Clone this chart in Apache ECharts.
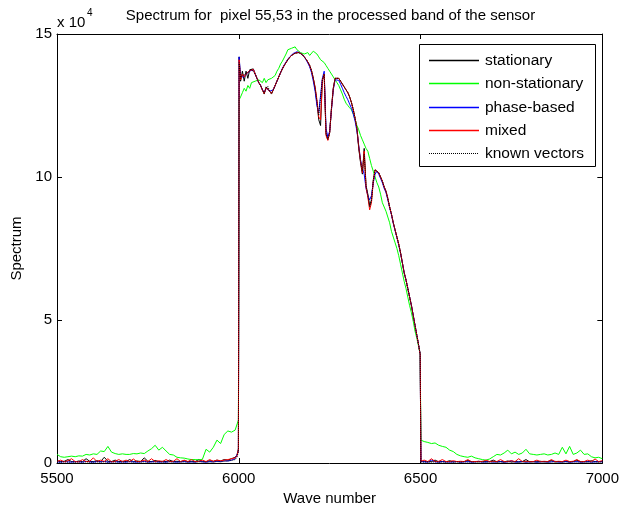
<!DOCTYPE html>
<html>
<head>
<meta charset="utf-8">
<script src="https://cdn.jsdelivr.net/npm/echarts/dist/echarts.min.js"></script>
<style>html,body{margin:0;padding:0;background:#fff}#c{width:622px;height:514px}</style>
</head>
<body>
<div id="c"></div>
<script>
// Wave numbers (x values) shared by all series
const waves = [
  5500,5510,5520,5530,5540,5550,5560,5570,5580,5590,
  5600,5610,5620,5630,5640,5650,5660,5670,5680,5690,
  5700,5710,5720,5730,5740,5750,5760,5770,5780,5790,
  5800,5810,5820,5830,5840,5850,5860,5870,5880,5890,
  5900,5910,5920,5930,5940,5950,5960,5970,5980,5990,
  5995,5999,
  6001,
  6005,6010,6015,6020,6025,6030,6035,6040,6045,6050,
  6055,6060,6065,6070,6075,6080,6085,6090,6095,6100,
  6105,6110,6115,6120,6125,6130,6135,6140,6145,6150,
  6155,6160,6165,6170,6175,6180,6185,6190,6195,6200,
  6205,6210,6215,6220,6225,6230,6235,6240,6245,6250,
  6255,6260,6265,6270,6275,6280,6285,6290,6295,6300,
  6305,6310,6315,6320,6325,6330,6335,6340,6345,6350,
  6355,6360,6365,6370,6375,6380,6385,6390,6395,6400,
  6405,6410,6415,6420,6425,6430,6435,6440,6445,6450,
  6455,6460,6465,6470,6475,6480,6485,6490,6495,
  6499,
  6501,
  6510,6520,6530,6540,6550,6560,6570,6580,6590,6600,
  6610,6620,6630,6640,6650,6660,6670,6680,6690,6700,
  6710,6720,6730,6740,6750,6760,6770,6780,6790,6800,
  6810,6820,6830,6840,6850,6860,6870,6880,6890,6900,
  6910,6920,6930,6940,6950,6960,6970,6980,6990,7000
];

// Spectrum values, in units of 10^4
const stationary = [
  0.08,0.05,0.06,0.12,0.05,0.04,0.07,0.05,0.15,0.06,
  0.05,0.08,0.05,0.2,0.06,0.05,0.1,0.05,0.06,0.05,
  0.12,0.05,0.07,0.05,0.18,0.06,0.05,0.09,0.05,0.06,
  0.05,0.1,0.05,0.06,0.05,0.08,0.05,0.06,0.05,0.12,
  0.06,0.05,0.08,0.06,0.1,0.07,0.12,0.1,0.15,0.2,
  0.28,0.5,
  14.2,
  13.35,13.7,13.35,13.7,13.45,13.75,13.8,13.78,13.62,13.45,
  13.3,13.2,13.05,12.9,13.15,13.2,13.0,12.9,13.05,13.2,
  13.35,13.5,13.65,13.78,13.9,14.0,14.1,14.18,14.25,14.3,
  14.33,14.35,14.35,14.32,14.28,14.2,14.12,14.02,13.9,13.72,
  13.45,13.1,12.6,12.0,11.8,13.4,13.55,11.5,11.3,11.55,
  12.4,13.1,13.45,13.5,13.45,13.35,13.25,13.15,13.05,12.95,
  12.8,12.6,12.35,12.05,11.7,11.0,10.5,10.1,11.0,9.7,
  9.4,9.0,9.2,9.9,10.25,10.3,10.15,10.0,9.85,9.65,
  9.5,9.25,8.95,8.7,8.4,8.15,7.9,7.65,7.35,7.0,
  6.65,6.4,6.1,5.8,5.5,5.15,4.8,4.45,4.1,
  3.8,
  0.05,
  0.06,0.04,0.05,0.1,0.04,0.05,0.04,0.08,0.04,0.05,
  0.04,0.05,0.09,0.04,0.05,0.04,0.06,0.04,0.05,0.1,
  0.04,0.05,0.04,0.07,0.04,0.05,0.04,0.05,0.12,0.04,
  0.05,0.04,0.06,0.04,0.05,0.09,0.04,0.05,0.04,0.06,
  0.04,0.05,0.1,0.04,0.05,0.04,0.08,0.05,0.04,0.06
];

const nonStationary = [
  0.3,0.22,0.2,0.22,0.24,0.22,0.25,0.24,0.3,0.28,
  0.32,0.3,0.42,0.4,0.58,0.38,0.33,0.3,0.32,0.3,
  0.3,0.33,0.32,0.35,0.33,0.42,0.5,0.62,0.45,0.55,
  0.42,0.3,0.28,0.2,0.18,0.17,0.14,0.12,0.12,0.11,
  0.13,0.48,0.38,0.55,0.8,0.68,1.0,1.12,1.08,1.15,
  1.2,1.5,
  12.7,
  12.8,12.95,13.1,13.0,13.2,13.1,13.3,13.25,13.35,13.3,
  13.4,13.35,13.3,13.45,13.3,13.4,13.35,13.45,13.5,13.55,
  13.7,13.8,13.95,14.05,14.1,14.3,14.45,14.4,14.5,14.45,
  14.55,14.45,14.4,14.35,14.3,14.3,14.25,14.35,14.25,14.3,
  14.4,14.35,14.3,14.2,14.1,14.05,14.0,13.9,13.8,13.7,
  13.6,13.5,13.4,13.3,13.2,13.05,12.9,12.72,12.58,12.5,
  12.42,12.35,12.2,12.0,11.8,11.65,11.45,11.3,11.15,11.0,
  10.9,10.65,10.4,10.2,10.0,9.8,9.65,9.4,9.1,8.95,
  8.8,8.6,8.4,8.1,7.9,7.7,7.5,7.25,6.95,6.65,
  6.35,6.1,5.8,5.5,5.25,4.95,4.6,4.35,4.05,
  3.8,
  0.8,
  0.75,0.72,0.68,0.7,0.62,0.58,0.55,0.45,0.4,0.3,
  0.25,0.22,0.2,0.24,0.18,0.15,0.12,0.1,0.14,0.22,
  0.3,0.28,0.35,0.45,0.32,0.38,0.3,0.35,0.48,0.32,
  0.3,0.28,0.3,0.32,0.28,0.3,0.35,0.3,0.55,0.32,
  0.58,0.3,0.35,0.45,0.3,0.32,0.22,0.18,0.2,0.15
];

const phaseBased = [
  0.04,0.03,0.05,0.04,0.03,0.05,0.04,0.03,0.06,0.04,
  0.03,0.05,0.04,0.06,0.03,0.04,0.05,0.03,0.04,0.03,
  0.05,0.04,0.03,0.04,0.06,0.03,0.04,0.05,0.03,0.04,
  0.03,0.05,0.04,0.03,0.04,0.05,0.03,0.04,0.03,0.06,
  0.04,0.03,0.05,0.04,0.06,0.05,0.08,0.07,0.1,0.15,
  0.2,0.4,
  14.2,
  13.5,13.55,13.5,13.6,13.6,13.7,13.75,13.75,13.6,13.45,
  13.3,13.2,13.05,12.95,13.1,13.15,13.0,12.95,13.05,13.2,
  13.35,13.5,13.65,13.8,13.92,14.02,14.12,14.2,14.26,14.32,
  14.35,14.38,14.37,14.33,14.28,14.2,14.1,13.98,13.85,13.65,
  13.35,13.0,12.5,12.25,12.3,13.45,13.7,11.7,11.4,11.6,
  12.35,13.05,13.4,13.45,13.38,13.25,13.1,12.95,12.82,12.7,
  12.55,12.4,12.2,11.95,11.6,11.1,10.6,10.3,10.1,9.6,
  9.35,9.2,9.35,9.8,10.1,10.2,10.1,9.95,9.8,9.6,
  9.45,9.2,8.92,8.68,8.38,8.12,7.88,7.62,7.33,7.0,
  6.65,6.4,6.1,5.8,5.5,5.15,4.8,4.45,4.1,
  3.8,
  0.05,
  0.04,0.03,0.1,0.04,0.03,0.05,0.04,0.03,0.04,0.05,
  0.03,0.04,0.05,0.03,0.04,0.06,0.03,0.04,0.05,0.03,
  0.04,0.05,0.03,0.04,0.08,0.03,0.04,0.05,0.03,0.04,
  0.05,0.03,0.04,0.05,0.03,0.04,0.06,0.03,0.04,0.05,
  0.03,0.04,0.05,0.03,0.04,0.05,0.03,0.04,0.05,0.04
];

const mixed = [
  0.05,0.1,0.04,0.08,0.15,0.05,0.04,0.12,0.05,0.06,
  0.18,0.05,0.1,0.05,0.15,0.04,0.06,0.12,0.05,0.1,
  0.05,0.14,0.05,0.06,0.1,0.05,0.15,0.05,0.08,0.05,
  0.12,0.05,0.06,0.15,0.05,0.1,0.05,0.12,0.05,0.06,
  0.1,0.05,0.12,0.06,0.1,0.08,0.1,0.12,0.15,0.18,
  0.25,0.45,
  14.1,
  13.4,13.6,13.5,13.6,13.55,13.72,13.78,13.76,13.6,13.45,
  13.3,13.2,13.05,12.92,13.12,13.18,13.0,12.92,13.05,13.2,
  13.35,13.5,13.65,13.78,13.9,14.0,14.1,14.18,14.25,14.3,
  14.33,14.36,14.36,14.33,14.28,14.2,14.12,14.02,13.9,13.72,
  13.45,13.15,12.7,12.1,12.0,13.4,13.6,11.45,11.28,11.55,
  12.4,13.1,13.45,13.5,13.45,13.35,13.25,13.15,13.05,12.95,
  12.8,12.6,12.35,12.05,11.7,11.05,10.55,10.15,10.9,9.65,
  9.3,8.85,9.1,9.85,10.25,10.3,10.15,10.0,9.85,9.65,
  9.5,9.25,8.95,8.7,8.4,8.15,7.9,7.65,7.35,7.0,
  6.65,6.4,6.1,5.8,5.5,5.15,4.8,4.45,4.1,
  3.8,
  0.06,
  0.1,0.05,0.15,0.05,0.06,0.12,0.05,0.05,0.08,0.05,
  0.06,0.05,0.12,0.05,0.05,0.06,0.05,0.1,0.05,0.06,
  0.05,0.12,0.05,0.05,0.08,0.05,0.15,0.05,0.06,0.05,
  0.05,0.1,0.05,0.06,0.05,0.12,0.05,0.06,0.05,0.1,
  0.05,0.06,0.12,0.05,0.05,0.1,0.05,0.14,0.05,0.08
];

const knownVectors = [
  0.04,0.03,0.04,0.03,0.04,0.03,0.04,0.03,0.04,0.03,
  0.03,0.04,0.03,0.04,0.03,0.04,0.03,0.04,0.03,0.04,
  0.04,0.03,0.04,0.03,0.04,0.03,0.04,0.03,0.04,0.03,
  0.03,0.04,0.03,0.04,0.03,0.04,0.03,0.04,0.03,0.04,
  0.04,0.03,0.04,0.03,0.05,0.04,0.06,0.07,0.09,0.12,
  0.2,0.4,
  14.0,
  13.45,13.55,13.5,13.6,13.6,13.7,13.77,13.75,13.6,13.45,
  13.3,13.2,13.05,12.93,13.1,13.17,13.0,12.93,13.05,13.2,
  13.35,13.5,13.65,13.78,13.9,14.0,14.1,14.18,14.25,14.3,
  14.33,14.35,14.35,14.32,14.28,14.2,14.12,14.02,13.9,13.72,
  13.45,13.1,12.65,12.15,12.1,13.4,13.6,11.55,11.32,11.55,
  12.4,13.1,13.45,13.5,13.45,13.35,13.25,13.15,13.05,12.95,
  12.8,12.6,12.35,12.05,11.7,11.05,10.55,10.2,10.8,9.7,
  9.35,8.95,9.15,9.85,10.25,10.3,10.15,10.0,9.85,9.65,
  9.5,9.25,8.95,8.7,8.4,8.15,7.9,7.65,7.35,7.0,
  6.65,6.4,6.1,5.8,5.5,5.15,4.8,4.45,4.1,
  3.8,
  0.04,
  0.03,0.04,0.03,0.04,0.03,0.04,0.03,0.04,0.03,0.04,
  0.03,0.04,0.03,0.04,0.03,0.04,0.03,0.04,0.03,0.04,
  0.03,0.04,0.03,0.04,0.03,0.04,0.03,0.04,0.03,0.04,
  0.03,0.04,0.03,0.04,0.03,0.04,0.03,0.04,0.03,0.04,
  0.03,0.04,0.03,0.04,0.03,0.04,0.03,0.04,0.03,0.04
];

const xTicks = [5500, 6000, 6500, 7000];
const yTicks = [0, 5, 10, 15];
const seriesNames = ['stationary', 'non-stationary', 'phase-based', 'mixed', 'known vectors'];
const seriesValues = [stationary, nonStationary, phaseBased, mixed, knownVectors];
const seriesColors = ['#000000', '#00ff00', '#0000ff', '#ff0000', '#000000'];
const seriesDash = ['solid', 'solid', 'solid', 'solid', [1, 1]];

const FONT = 'Liberation Sans, Arial, Helvetica, sans-serif';

const chart = echarts.init(document.getElementById('c'), null, {renderer: 'canvas'});

const series = seriesNames.map((name, k) => {
  const vals = seriesValues[k];
  if (vals.length !== waves.length) console.error(name, vals.length, waves.length);
  return {
    name: name,
    type: 'line',
    data: waves.map((w, i) => [w, vals[i]]),
    symbol: 'none',
    showSymbol: false,
    smooth: false,
    lineStyle: {color: seriesColors[k], width: 1, type: seriesDash[k]},
    itemStyle: {color: seriesColors[k]},
    z: 2 + k
  };
});

const axisCommon = {
  axisLine: {show: true, onZero: false, lineStyle: {color: '#000', width: 1}},
  axisTick: {show: true, inside: true, length: 5, lineStyle: {color: '#000'}},
  splitLine: {show: false}
};

// Legend box drawn as graphic elements (MATLAB-style: thin line samples)
const legendBox = {x: 419.5, y: 44.5, w: 176, h: 122};
const legendRowY = [60.5, 83.5, 107.5, 130.5, 153.5];
const legendGraphic = [{
  type: 'rect', z: 200, id: 'lgbox',
  shape: {x: legendBox.x, y: legendBox.y, width: legendBox.w, height: legendBox.h},
  style: {fill: '#fff', stroke: '#000', lineWidth: 1}
}];
seriesNames.forEach((n, k) => {
  const st = {stroke: seriesColors[k], fill: null, lineWidth: k === 4 ? 1 : 1.5};
  if (k === 4) st.lineDash = [1, 1];
  legendGraphic.push({
    type: 'polyline', z: 201, id: 'lgline' + k,
    shape: {points: [[429, legendRowY[k]], [479, legendRowY[k]]]},
    style: st
  });
  legendGraphic.push({
    type: 'text', z: 201, id: 'lgtext' + k, x: 485, y: legendRowY[k],
    style: {text: n, fill: '#000', font: '15.5px ' + FONT, verticalAlign: 'middle'}
  });
});

chart.setOption({
  animation: false,
  backgroundColor: '#fff',
  grid: {left: 57, right: 18, top: 34, bottom: 51, containLabel: false},
  xAxis: [
    Object.assign({}, axisCommon, {
      type: 'value', min: xTicks[0], max: xTicks[xTicks.length - 1], interval: 500,
      position: 'bottom',
      name: 'Wave number', nameLocation: 'middle', nameGap: 27,
      nameTextStyle: {color: '#000', fontSize: 15, fontFamily: FONT},
      axisLabel: {color: '#000', fontSize: 15, fontFamily: FONT, margin: 8, formatter: v => String(v)}
    }),
    Object.assign({}, axisCommon, {
      type: 'value', min: xTicks[0], max: xTicks[xTicks.length - 1], interval: 500,
      position: 'top', axisLabel: {show: false}
    })
  ],
  yAxis: [
    Object.assign({}, axisCommon, {
      type: 'value', min: yTicks[0], max: yTicks[yTicks.length - 1], interval: 5,
      position: 'left',
      name: 'Spectrum', nameLocation: 'middle', nameGap: 32, nameRotate: 90,
      nameTextStyle: {color: '#000', fontSize: 15, fontFamily: FONT},
      axisLabel: {color: '#000', fontSize: 15, fontFamily: FONT, margin: 5, formatter: v => String(v)}
    }),
    Object.assign({}, axisCommon, {
      type: 'value', min: yTicks[0], max: yTicks[yTicks.length - 1], interval: 5,
      position: 'right', axisLabel: {show: false}
    })
  ],
  legend: {show: false, data: seriesNames},
  graphic: [
    {type: 'text', id: 'title', x: 330.5, y: 8, style: {text: 'Spectrum for  pixel 55,53 in the processed band of the sensor', fill: '#000', font: '15px ' + FONT, textAlign: 'center'}, z: 100},
    {type: 'text', id: 'exp1', x: 57, y: 15, style: {text: 'x 10', fill: '#000', font: '15px ' + FONT}, z: 100},
    {type: 'text', id: 'exp2', x: 87, y: 8, style: {text: '4', fill: '#000', font: '10px ' + FONT}, z: 100}
  ].concat(legendGraphic),
  series: series
});
</script>
</body>
</html>
